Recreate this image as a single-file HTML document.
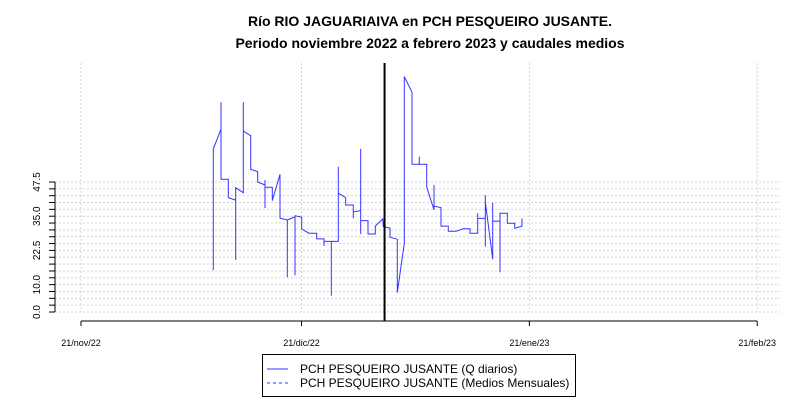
<!DOCTYPE html>
<html><head><meta charset="utf-8"><style>
body{margin:0;background:#fff;}
svg{display:block;font-family:"Liberation Sans",sans-serif;}
</style></head><body>
<svg id="chart" width="800" height="400" viewBox="0 0 800 400">
<rect width="800" height="400" fill="#fff"/>
<text x="430" y="26" text-anchor="middle" font-size="14" font-weight="bold">Río RIO JAGUARIAIVA en PCH PESQUEIRO JUSANTE.</text>
<text x="430" y="48" text-anchor="middle" font-size="14" font-weight="bold">Periodo noviembre 2022 a febrero 2023 y caudales medios</text>
<g id="grid"></g>
<g id="axes"></g>
<g id="series"></g>
<g>
<rect x="262.5" y="354.5" width="313" height="42" fill="#fff" stroke="#000"/>
<line x1="267" y1="369" x2="288" y2="369" stroke="#3333ff"/>
<text x="300" y="373" font-size="12">PCH PESQUEIRO JUSANTE (Q diarios)</text>
<line x1="267" y1="383" x2="288" y2="383" stroke="#3333ff" stroke-dasharray="3,3"/>
<text x="300" y="387" font-size="12">PCH PESQUEIRO JUSANTE (Medios Mensuales)</text>
</g>
</svg>
<script>
const days=[18.0,18.0,19.05,19.05,19.05,20.04,20.04,21.05,21.05,21.05,22.08,22.08,22.08,23.09,23.09,24.04,24.04,25.03,25.03,25.03,25.03,26.03,26.03,27.07,27.07,28.07,28.07,28.07,29.12,29.12,29.12,30.03,30.03,31.02,32.07,32.07,33.06,33.06,33.06,34.05,34.05,34.05,35.0,35.0,35.0,36.01,36.01,37.05,37.05,37.05,38.05,38.05,38.05,38.05,39.05,39.05,40.04,40.04,41.05,41.13,42.04,42.04,43.03,43.03,43.99,43.99,45.03,45.03,46.03,46.03,46.03,47.03,47.03,48.03,48.03,48.03,48.98,48.98,49.97,49.97,51.02,52.01,52.93,52.93,53.97,53.97,53.97,55.01,55.01,55.01,55.01,56.01,56.01,56.01,56.01,57.01,57.01,57.01,58.0,58.0,59.01,59.01,60.0,60.0];
const flows=[15.3,59.6,66.8,76.6,48.5,48.5,41.8,40.9,19.0,45.4,43.6,76.6,66.1,64.4,52.1,51.3,47.5,46.4,38.0,48.2,45.6,45.6,40.7,50.3,34.3,33.6,12.7,33.6,34.8,13.5,35.2,34.6,30.3,28.8,28.8,26.7,26.7,24.1,25.8,25.8,6.0,25.8,25.8,53.1,43.4,41.8,39.1,39.1,34.2,36.6,37.0,59.6,28.5,33.4,33.4,28.5,28.5,31.4,34.0,31.2,30.6,27.3,26.6,7.1,25.1,86.0,80.3,54.0,54.0,56.7,54.0,54.0,45.6,37.3,46.4,38.7,38.1,31.4,31.4,29.5,29.5,30.4,30.4,28.8,28.8,36.1,34.2,34.2,42.7,23.9,40.3,19.3,33.0,39.9,33.2,33.2,14.5,36.1,36.1,32.4,32.4,30.6,31.4,34.2];
const xTickDays=[0,30,61,92];
const xTickLabels=["21/nov/22","21/dic/22","21/ene/23","21/feb/23"];
const yTickLabels=["0.0","10.0","22.5","35.0","47.5"];
const markerDay=41.3;

const NS="http://www.w3.org/2000/svg";
const X=d=>81+d*7.35;
const Y=v=>312-v*2.737;
function mk(tag,attrs,parent){const e=document.createElementNS(NS,tag);for(const k in attrs)e.setAttribute(k,attrs[k]);document.getElementById(parent).appendChild(e);return e;}

for(let v=0;v<=47.5;v+=2.5){
  const l=mk("line",{x1:55,x2:780,y1:Y(v),y2:Y(v),stroke:"#d3d3d3","stroke-dasharray":"2,2"},"grid");
  
  
  const t=mk("line",{x1:49,x2:55,y1:Y(v),y2:Y(v),stroke:"#000"},"axes");
  
  
}
xTickDays.forEach((d,i)=>{
  const g=mk("line",{x1:X(d),x2:X(d),y1:63,y2:312,stroke:"#d3d3d3","stroke-dasharray":"2,2"},"grid");
  
  
  const t=mk("line",{x1:X(d),x2:X(d),y1:321,y2:326,stroke:"#000"},"axes");
  
  
  const tx=mk("text",{x:X(d),y:346,"font-size":9,"text-anchor":"middle"},"axes");
  tx.textContent=xTickLabels[i];
  
  
});
yTickLabels.forEach(s=>{
  const v=parseFloat(s);
  const tx=mk("text",{x:0,y:0,"font-size":10,"text-anchor":"middle",transform:`translate(40,${Y(v)}) rotate(-90)`},"axes");
  tx.textContent=s;
  
  
});
const ya=mk("line",{x1:55,x2:55,y1:Y(0),y2:Y(47.5),stroke:"#000"},"axes");


const xa=mk("line",{x1:X(0),x2:X(92),y1:321,y2:321,stroke:"#000"},"axes");



const pts=days.map((d,i)=>X(d).toFixed(1)+","+Y(flows[i]).toFixed(1)).join(" ");
const pl=mk("polyline",{points:pts,fill:"none",stroke:"#3333ff","stroke-width":1},"series");



const mline=mk("line",{x1:X(markerDay),x2:X(markerDay),y1:63,y2:321,stroke:"#000","stroke-width":2},"series");


</script>
</body></html>
